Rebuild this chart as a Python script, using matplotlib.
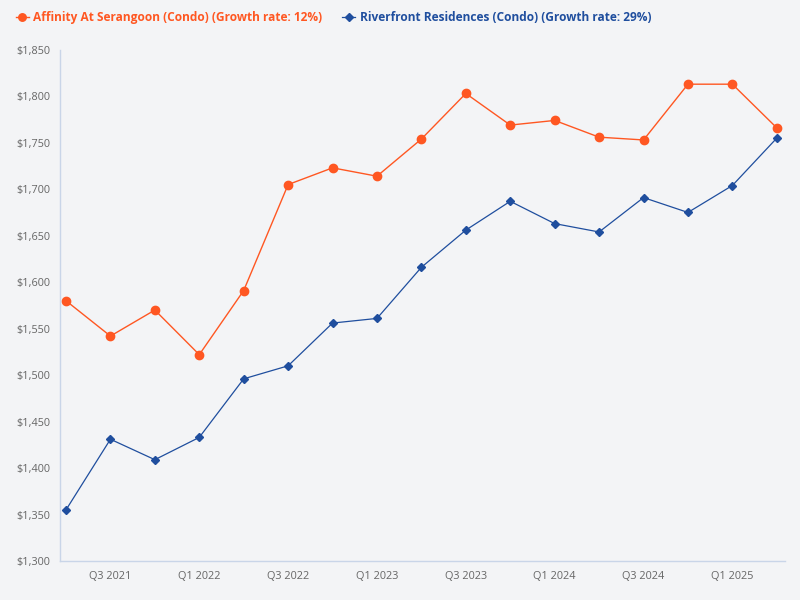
import matplotlib.pyplot as plt
from matplotlib.ticker import FuncFormatter

# Datos trimestrales Q2 2021 - Q2 2025
quarters = ["Q2 2021", "Q3 2021", "Q4 2021", "Q1 2022", "Q2 2022", "Q3 2022",
            "Q4 2022", "Q1 2023", "Q2 2023", "Q3 2023", "Q4 2023", "Q1 2024",
            "Q2 2024", "Q3 2024", "Q4 2024", "Q1 2025", "Q2 2025"]
affinity = [1580, 1542, 1570, 1522, 1591, 1705, 1723, 1714, 1754, 1803,
            1769, 1774, 1756, 1753, 1813, 1813, 1766]
riverfront = [1355, 1431, 1409, 1433, 1496, 1510, 1556, 1561, 1616, 1656,
              1687, 1663, 1654, 1691, 1675, 1704, 1755]

label_a = "Affinity At Serangoon (Condo) (Growth rate: 12%)"
label_r = "Riverfront Residences (Condo) (Growth rate: 29%)"

plt.rcParams['font.family'] = ['Open Sans', 'DejaVu Sans']

bg = "#f3f4f6"
orange = "#ff5722"
blue = "#1f4e9e"

fig = plt.figure(figsize=(8, 6), dpi=100, facecolor=bg)
ax = fig.add_axes([0.075, 0.065, 0.906, 0.852], facecolor=bg)

x = list(range(len(quarters)))
ax.plot(x, affinity, color=orange, lw=1, marker='o', ms=6, label=label_a)
ax.plot(x, riverfront, color=blue, lw=0.9, marker='D', ms=4.5, label=label_r)

ax.set_xlim(-0.135, 16.18)
ax.set_ylim(1300, 1850)
ax.set_yticks(range(1300, 1851, 50))
ax.yaxis.set_major_formatter(FuncFormatter(lambda v, p: f"${v:,.0f}"))
ax.set_xticks(x[1::2])
ax.set_xticklabels(quarters[1::2])

for s in ['top', 'right']:
    ax.spines[s].set_visible(False)
for s in ['left', 'bottom']:
    ax.spines[s].set_color("#c9d5e8")
    ax.spines[s].set_linewidth(1)
ax.tick_params(length=0, labelsize=7.8, colors="#666666", pad=7)

leg = fig.legend(loc='upper left', bbox_to_anchor=(0.006, 1.0), ncol=2,
                 frameon=False, prop={'size': 8.6, 'weight': 'bold'},
                 handlelength=1.1, handletextpad=0.35,
                 columnspacing=1.7, markerscale=0.9)
for t, c in zip(leg.get_texts(), [orange, blue]):
    t.set_color(c)

fig.savefig("out.png", dpi=100, facecolor=bg)
